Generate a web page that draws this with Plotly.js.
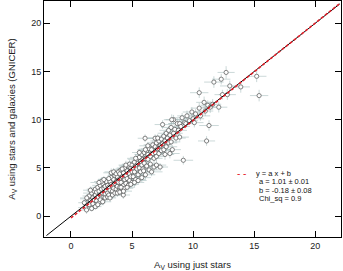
<!DOCTYPE html>
<html>
<head>
<meta charset="utf-8">
<script src="https://cdn.plot.ly/plotly-3.0.1.min.js"></script>
<style>
html,body{margin:0;padding:0;background:#fff;}
#chart{width:343px;height:271px;}
</style>
</head>
<body>
<div id="chart"></div>
<script>
// A_V from stars only (x) and from stars+galaxies GNICER (y)
const starsAv = [
  1.1,1.2,1.28,1.4,1.5,1.5,1.6,1.7,1.7,1.8,1.8,1.9,1.9,2.0,2.0,1.6,1.3,2.0,
  2.1,2.1,2.2,2.2,2.3,2.3,2.4,2.4,2.5,2.5,2.6,2.6,2.7,2.7,2.8,2.8,2.9,2.9,3.0,3.0,2.2,2.4,2.6,2.8,3.0,2.5,2.7,2.3,
  3.1,3.1,3.2,3.2,3.3,3.3,3.4,3.4,3.5,3.5,3.6,3.6,3.7,3.7,3.8,3.8,3.9,3.9,4.0,4.0,3.2,3.4,3.6,3.8,4.0,3.3,3.5,3.7,3.9,3.1,4.0,
  4.1,4.1,4.2,4.29,4.3,4.3,4.4,4.4,4.5,4.5,4.6,4.6,4.7,4.7,4.8,4.8,4.9,4.9,5.0,5.0,4.2,4.4,4.6,4.8,5.0,4.3,4.5,4.9,4.1,
  5.1,5.1,5.2,5.2,5.3,5.3,5.4,5.4,5.5,5.5,5.6,5.6,5.7,5.7,5.8,5.8,5.9,5.9,6.0,6.0,5.2,5.5,5.8,5.95,5.6,5.3,
  6.1,6.1,6.2,6.2,6.3,6.3,6.4,6.4,6.5,6.5,6.6,6.6,6.7,6.7,6.8,6.8,6.9,6.9,7.0,7.0,6.3,7.0,6.1,6.07,6.89,
  7.1,7.2,7.2,7.3,7.3,7.4,7.4,7.5,7.5,7.6,7.6,7.7,7.8,7.8,7.9,8.0,8.0,7.1,7.7,
  8.1,8.2,8.2,8.4,8.4,8.5,8.6,8.7,8.8,8.9,9.0,9.1,9.2,9.3,9.4,9.5,9.7,9.9,10.0,8.3,8.9,8.25,8.1,
  10.2,10.5,10.6,10.9,10.5,11.1,11.3,11.2,11.4,11.6,11.0,11.7,12.3,12.7,13.0,13.9,12.8,12.4,15.2,15.4,12.1,10.1
];
const gnicerAv = [
  1.4,0.9,0.65,1.8,1.2,2.1,1.6,0.8,2.4,1.9,1.3,2.6,1.7,2.2,1.0,2.7,1.9,2.8,
  1.6,2.5,3.0,2.0,2.6,1.4,2.2,3.2,2.8,1.9,2.4,3.4,2.0,2.9,3.1,2.3,2.7,3.6,2.4,3.2,1.2,1.7,1.5,1.9,2.0,3.6,3.8,3.5,
  3.0,2.2,3.6,2.7,3.3,4.0,2.6,3.1,3.8,2.9,3.4,4.2,2.8,3.6,3.1,4.1,3.5,2.6,3.9,3.0,1.9,2.2,2.4,2.4,2.5,4.5,4.6,4.4,4.6,3.9,4.4,
  3.5,4.8,4.1,2.2,3.2,4.5,3.8,5.0,4.2,3.4,4.7,3.9,3.2,5.2,4.4,3.7,5.0,4.1,4.6,3.5,4.9,2.9,3.0,5.4,5.3,2.6,5.3,3.3,3.0,
  5.0,4.1,5.6,4.6,3.8,5.2,4.9,5.9,4.3,5.5,5.0,6.1,4.6,5.7,5.3,6.4,4.9,5.9,5.5,6.6,3.5,3.7,4.0,4.7,6.6,6.0,
  6.0,4.3,6.8,5.2,5.9,6.4,4.8,7.0,6.2,5.4,6.9,4.6,6.5,7.4,6.0,5.1,7.2,6.6,7.6,6.2,7.3,5.3,6.9,8.08,8.08,
  7.0,7.8,6.5,5.1,7.3,8.0,6.8,7.5,9.5,8.3,6.9,7.8,8.6,7.2,8.1,8.9,7.6,8.1,6.4,
  8.4,9.2,7.7,10.0,8.6,9.0,8.1,9.6,8.9,9.6,9.3,10.2,5.8,9.7,9.6,10.4,9.9,10.8,10.1,6.9,8.2,10.0,6.5,
  10.6,11.2,10.4,11.8,12.8,7.8,9.4,11.5,11.3,11.6,10.9,13.9,14.2,14.9,13.5,13.4,12.6,12.6,14.5,12.5,11.3,9.7
];
const starsErr = [
  0.5,0.6,0.55,0.65,0.5,0.55,0.6,0.45,0.7,0.55,0.5,0.6,0.65,0.55,0.5,0.6,0.55,0.7,
  0.6,0.55,0.65,0.5,0.7,0.55,0.6,0.65,0.5,0.75,0.55,0.6,0.7,0.5,0.65,0.55,0.6,0.7,0.55,0.65,0.5,0.6,0.7,0.55,0.65,0.6,0.5,0.7,
  0.65,0.55,0.7,0.6,0.5,0.75,0.6,0.55,0.65,0.7,0.5,0.6,0.75,0.55,0.65,0.6,0.7,0.55,0.6,0.8,0.5,0.65,0.6,0.7,0.55,0.65,0.75,0.6,0.55,0.7,0.6,
  0.7,0.6,0.65,0.55,0.75,0.6,0.7,0.65,0.55,0.8,0.6,0.7,0.65,0.75,0.55,0.6,0.7,0.65,0.75,0.6,0.55,0.7,0.65,0.6,0.75,0.7,0.6,0.65,0.55,
  0.65,0.75,0.6,0.7,0.8,0.65,0.6,0.75,0.7,0.65,0.6,0.75,0.7,0.8,0.65,0.6,0.7,0.75,0.65,0.6,0.8,0.7,0.75,0.65,0.6,0.7,
  0.7,0.8,0.65,0.75,0.7,0.6,0.8,0.7,0.65,0.75,0.7,0.9,0.65,0.75,0.7,0.8,0.6,0.7,0.75,0.65,0.7,0.8,0.65,0.6,0.7,
  0.75,0.7,0.8,0.65,0.75,0.7,0.9,0.75,0.65,0.7,0.8,0.75,0.7,0.9,0.65,0.75,0.7,0.8,0.75,
  0.7,0.8,0.75,0.65,0.75,0.7,0.8,0.75,0.7,0.9,0.75,0.7,0.8,0.75,0.65,0.8,0.7,0.75,0.9,0.7,0.75,0.65,0.8,
  0.75,0.7,0.8,0.65,0.75,0.7,0.8,0.6,0.75,0.7,0.65,0.8,0.75,0.7,0.8,0.75,0.7,0.65,0.8,0.75,0.7,0.75
];
const gnicerErr = [
  0.35,0.3,0.4,0.35,0.3,0.4,0.35,0.3,0.35,0.4,0.3,0.35,0.4,0.35,0.3,0.35,0.4,0.35,
  0.35,0.4,0.3,0.35,0.45,0.35,0.4,0.3,0.35,0.4,0.35,0.45,0.3,0.4,0.35,0.35,0.4,0.3,0.45,0.35,0.4,0.35,0.3,0.4,0.35,0.45,0.35,0.4,
  0.4,0.35,0.45,0.35,0.4,0.3,0.4,0.45,0.35,0.4,0.35,0.45,0.4,0.35,0.4,0.3,0.45,0.35,0.4,0.35,0.4,0.45,0.35,0.4,0.35,0.45,0.4,0.35,0.4,0.45,0.35,
  0.4,0.45,0.35,0.4,0.5,0.4,0.35,0.45,0.4,0.35,0.45,0.4,0.5,0.35,0.4,0.45,0.4,0.35,0.45,0.4,0.5,0.4,0.35,0.45,0.4,0.35,0.45,0.4,0.5,
  0.45,0.4,0.5,0.4,0.45,0.35,0.45,0.5,0.4,0.45,0.4,0.5,0.45,0.4,0.45,0.5,0.4,0.45,0.4,0.5,0.45,0.4,0.45,0.5,0.4,0.45,
  0.45,0.5,0.4,0.45,0.5,0.45,0.4,0.5,0.45,0.4,0.5,0.45,0.55,0.45,0.4,0.5,0.45,0.4,0.5,0.45,0.4,0.5,0.45,0.4,0.4,
  0.5,0.45,0.55,0.4,0.5,0.45,0.5,0.55,0.45,0.5,0.4,0.5,0.45,0.55,0.5,0.45,0.5,0.4,0.55,
  0.5,0.55,0.45,0.5,0.55,0.45,0.5,0.55,0.5,0.45,0.55,0.5,0.45,0.55,0.5,0.55,0.45,0.5,0.55,0.5,0.45,0.55,0.5,
  0.5,0.55,0.5,0.6,0.55,0.5,0.55,0.5,0.6,0.55,0.5,0.6,0.55,0.65,0.55,0.6,0.55,0.5,0.6,0.6,0.55,0.5
];

// fit y = a x + b and the one-to-one line
const fitSlope = 1.01;
const fitIntercept = -0.18;
const fitX = [0, 22];
const identityX = [-2, 22];
const tickVals = [0, 5, 10, 15, 20];
const legendLines = ['y = a x + b', 'a = 1.01 \u00b1 0.01', 'b = -0.18 \u00b1 0.08', 'Chi_sq = 0.9'];

const fitY = fitX.map(v => fitSlope * v + fitIntercept);

const FONT = '"Liberation Sans", Arial, Helvetica, sans-serif';

const traces = [
  {
    type: 'scatter', mode: 'markers',
    x: starsAv, y: gnicerAv,
    error_x: {type: 'data', array: starsErr, visible: true, color: 'rgba(160,184,184,0.55)', thickness: 1, width: 0},
    error_y: {type: 'data', array: gnicerErr, visible: true, color: 'rgba(160,184,184,0.55)', thickness: 1, width: 0},
    marker: {symbol: 'circle', size: 4.2, color: '#ffffff', line: {color: '#505050', width: 0.7}},
    showlegend: false, hoverinfo: 'x+y'
  },
  {
    type: 'scatter', mode: 'lines',
    x: identityX, y: identityX,
    line: {color: '#000000', width: 1},
    showlegend: false
  },
  {
    type: 'scatter', mode: 'lines',
    x: fitX, y: fitY,
    line: {color: '#e3202a', width: 1.6, dash: '3px,2px'},
    name: legendLines[0], showlegend: false
  }
];

const axisCommon = {
  showline: true, linecolor: '#000', linewidth: 1, mirror: 'ticks',
  ticks: 'inside', ticklen: 6, tickwidth: 1, tickcolor: '#000',
  tickvals: tickVals, ticktext: tickVals.map(String),
  showgrid: false, zeroline: false,
  tickfont: {family: FONT, size: 9, color: '#222'}
};

// legend block placed in the lower right of the plot (paper/pixel layout)
const legendFont = {family: FONT, size: 7.5, color: '#111'};
const legendRows = [4.46, 3.58, 2.70, 1.82];
const annotations = [
  {xref: 'x', yref: 'y', x: 13.93, y: legendRows[0], text: '- -', showarrow: false,
   xanchor: 'center', yanchor: 'middle', font: {family: FONT, size: 10, color: '#e3202a'}},
  {xref: 'x', yref: 'y', x: 15.1, y: legendRows[0], text: legendLines[0], showarrow: false,
   xanchor: 'left', yanchor: 'middle', font: legendFont, borderpad: 0},
  {xref: 'x', yref: 'y', x: 15.3, y: legendRows[1], text: legendLines[1], showarrow: false,
   xanchor: 'left', yanchor: 'middle', font: legendFont, borderpad: 0},
  {xref: 'x', yref: 'y', x: 15.3, y: legendRows[2], text: legendLines[2], showarrow: false,
   xanchor: 'left', yanchor: 'middle', font: legendFont, borderpad: 0},
  {xref: 'x', yref: 'y', x: 15.3, y: legendRows[3], text: legendLines[3], showarrow: false,
   xanchor: 'left', yanchor: 'middle', font: legendFont, borderpad: 0}
];

const layout = {
  width: 343, height: 271,
  margin: {l: 44, r: 2, t: 1, b: 34},
  paper_bgcolor: '#ffffff', plot_bgcolor: '#ffffff',
  font: {family: FONT, size: 9, color: '#222'},
  xaxis: Object.assign({}, axisCommon, {
    range: [-2.2, 22.1],
    title: {text: 'A<sub>V</sub> using just stars', font: {family: FONT, size: 9.5, color: '#222'}}
  }),
  yaxis: Object.assign({}, axisCommon, {
    range: [-2.15, 22.3],
    title: {text: 'A<sub>V</sub> using stars and galaxies (GNICER)', font: {family: FONT, size: 9.5, color: '#222'}}
  }),
  annotations: annotations,
  showlegend: false
};

Plotly.newPlot('chart', traces, layout, {staticPlot: true, displayModeBar: false});
</script>
</body>
</html>
